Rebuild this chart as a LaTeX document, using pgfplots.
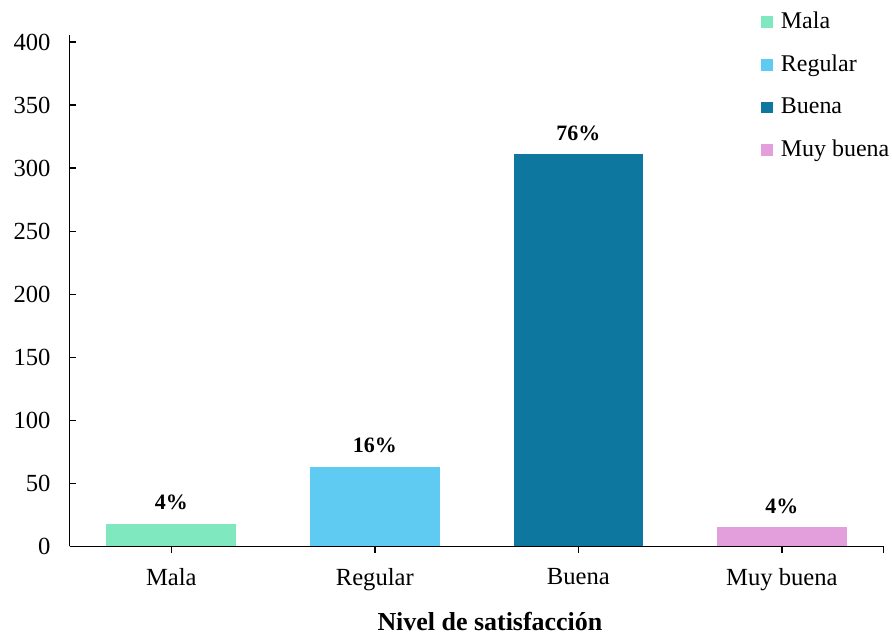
\documentclass[border=0pt]{standalone}
\usepackage{pgfplots}
\pgfplotsset{compat=1.18}
\usepackage{fontspec}
\setmainfont{Liberation Serif}
\definecolor{cmala}{HTML}{7FE8BE}
\definecolor{creg}{HTML}{5FCBF3}
\definecolor{cbue}{HTML}{0E77A0}
\definecolor{cmuy}{HTML}{E39FDB}
\begin{document}
\fontsize{18.5}{22}\selectfont
\begin{tikzpicture}
\begin{axis}[
  scale only axis,
  width=612pt, height=384.75pt,
  xmin=-0.5, xmax=3.5, ymin=0, ymax=406,
  axis x line*=bottom, axis y line*=left,
  axis line style={line width=1pt},
  tick style={line width=1pt, black},
  tick align=inside,
  major tick length=5pt,
  xtick={0,1,2,3},
  xticklabels={Mala,Regular,Buena,Muy buena},
  extra x ticks={3.5}, extra x tick labels={},
  ytick={0,50,...,400},
  /pgf/number format/assume math mode=true,
  ticklabel style={font=\fontsize{18.5}{22}\selectfont},
  yticklabel style={xshift=-8pt},
  xticklabel style={yshift=-5pt},
  xlabel={\textbf{Nivel de satisfacción}},
  xlabel style={font=\fontsize{19.5}{23}\selectfont, yshift=6pt, xshift=10pt},
  ybar, bar width=97.5pt, bar shift=0pt,
  point meta=explicit symbolic,
  nodes near coords,
  nodes near coords style={font=\fontsize{16.5}{20}\selectfont\bfseries, yshift=4pt},
  legend style={draw=none, fill=none, at={(0.849,1.068)}, anchor=north west,
    font=\fontsize{18}{21}\selectfont, row sep=13pt, column sep=4pt,
    inner xsep=0pt, inner ysep=7pt},
  legend cell align=left,
  legend image code/.code={\fill[#1] (0pt,-4.5pt) rectangle (9pt,4.5pt);},
  clip=false,
]
\addplot[draw=none, fill=cmala] coordinates {(0,18) [4\%]};
\addlegendentry{Mala}
\addplot[draw=none, fill=creg] coordinates {(1,63) [16\%]};
\addlegendentry{Regular}
\addplot[draw=none, fill=cbue] coordinates {(2,311) [76\%]};
\addlegendentry{Buena}
\addplot[draw=none, fill=cmuy] coordinates {(3,15) [4\%]};
\addlegendentry{Muy buena}
\end{axis}
\path ([xshift=-4pt]current bounding box.west);
\end{tikzpicture}
\end{document}
